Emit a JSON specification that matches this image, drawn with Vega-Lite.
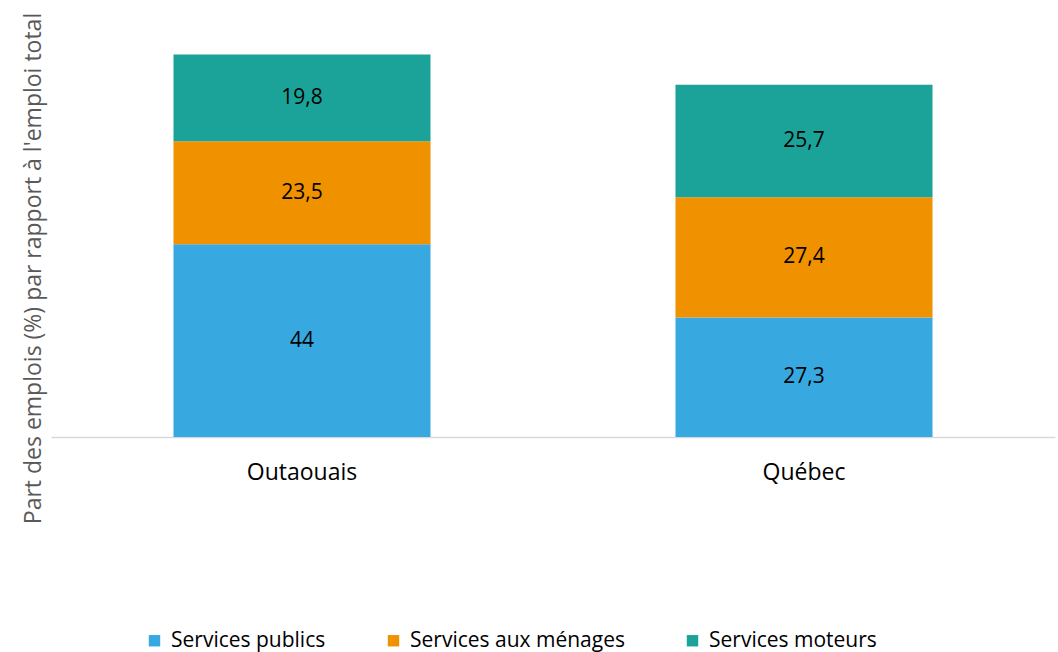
{
  "$schema": "https://vega.github.io/schema/vega-lite/v6.json",
  "width": 1004,
  "height": 432,
  "autosize": {"type": "none"},
  "padding": {"left": 51, "top": 5, "right": 3, "bottom": 215},
  "background": "white",
  "data": {
    "values": [
      {"region": "Outaouais", "serie": "Services publics", "ordre": 1, "part": 44},
      {"region": "Outaouais", "serie": "Services aux ménages", "ordre": 2, "part": 23.5},
      {"region": "Outaouais", "serie": "Services moteurs", "ordre": 3, "part": 19.8},
      {"region": "Québec", "serie": "Services publics", "ordre": 1, "part": 27.3},
      {"region": "Québec", "serie": "Services aux ménages", "ordre": 2, "part": 27.4},
      {"region": "Québec", "serie": "Services moteurs", "ordre": 3, "part": 25.7}
    ]
  },
  "encoding": {
    "x": {
      "field": "region",
      "type": "nominal",
      "sort": ["Outaouais", "Québec"],
      "scale": {"paddingInner": 0.488, "paddingOuter": 0.244},
      "axis": {
        "title": null,
        "labelAngle": 0,
        "ticks": false,
        "grid": false,
        "domainColor": "#D9D9D9",
        "domainWidth": 1.5,
        "labelFont": "Open Sans",
        "labelFontSize": 23,
        "labelColor": "#000000",
        "labelPadding": 35,
        "labelBaseline": "middle"
      }
    },
    "y": {
      "field": "part",
      "type": "quantitative",
      "stack": "zero",
      "scale": {"domain": [0, 98.6], "nice": false},
      "axis": {
        "title": "Part des emplois (%) par rapport à l'emploi total",
        "labels": false,
        "ticks": false,
        "domain": false,
        "grid": false,
        "titleFont": "Open Sans",
        "titleFontSize": 23,
        "titleFontWeight": "normal",
        "titleColor": "#595959",
        "titleAngle": -90,
        "titleX": -18,
        "titleY": 263,
        "titleAlign": "center",
        "titleBaseline": "middle"
      }
    },
    "order": {"field": "ordre", "type": "quantitative", "sort": "ascending"}
  },
  "layer": [
    {
      "mark": {"type": "bar"},
      "encoding": {
        "color": {
          "field": "serie",
          "type": "nominal",
          "sort": ["Services publics", "Services aux ménages", "Services moteurs"],
          "scale": {
            "domain": ["Services publics", "Services aux ménages", "Services moteurs"],
            "range": ["#38A9E0", "#F09100", "#1BA39A"]
          },
          "legend": {
            "title": null,
            "orient": "none",
            "legendX": 93,
            "legendY": 625,
            "direction": "horizontal",
            "symbolType": "square",
            "symbolSize": 130,
            "symbolStrokeWidth": 0,
            "labelFont": "Open Sans",
            "labelFontSize": 21,
            "labelColor": "#000000",
            "labelOffset": 6,
            "labelLimit": 400,
            "columnPadding": 57
          }
        }
      }
    },
    {
      "mark": {"type": "text", "font": "Open Sans", "fontSize": 21, "color": "#000000", "baseline": "middle", "align": "center"},
      "encoding": {
        "y": {"field": "part", "type": "quantitative", "stack": "zero", "bandPosition": 0.5},
        "detail": {"field": "serie", "type": "nominal"},
        "text": {"field": "part", "type": "quantitative", "format": ".3~r"}
      }
    }
  ],
  "config": {
    "view": {"stroke": null},
    "locale": {"number": {"decimal": ",", "thousands": " ", "grouping": [3], "currency": ["", "$"]}}
  }
}
